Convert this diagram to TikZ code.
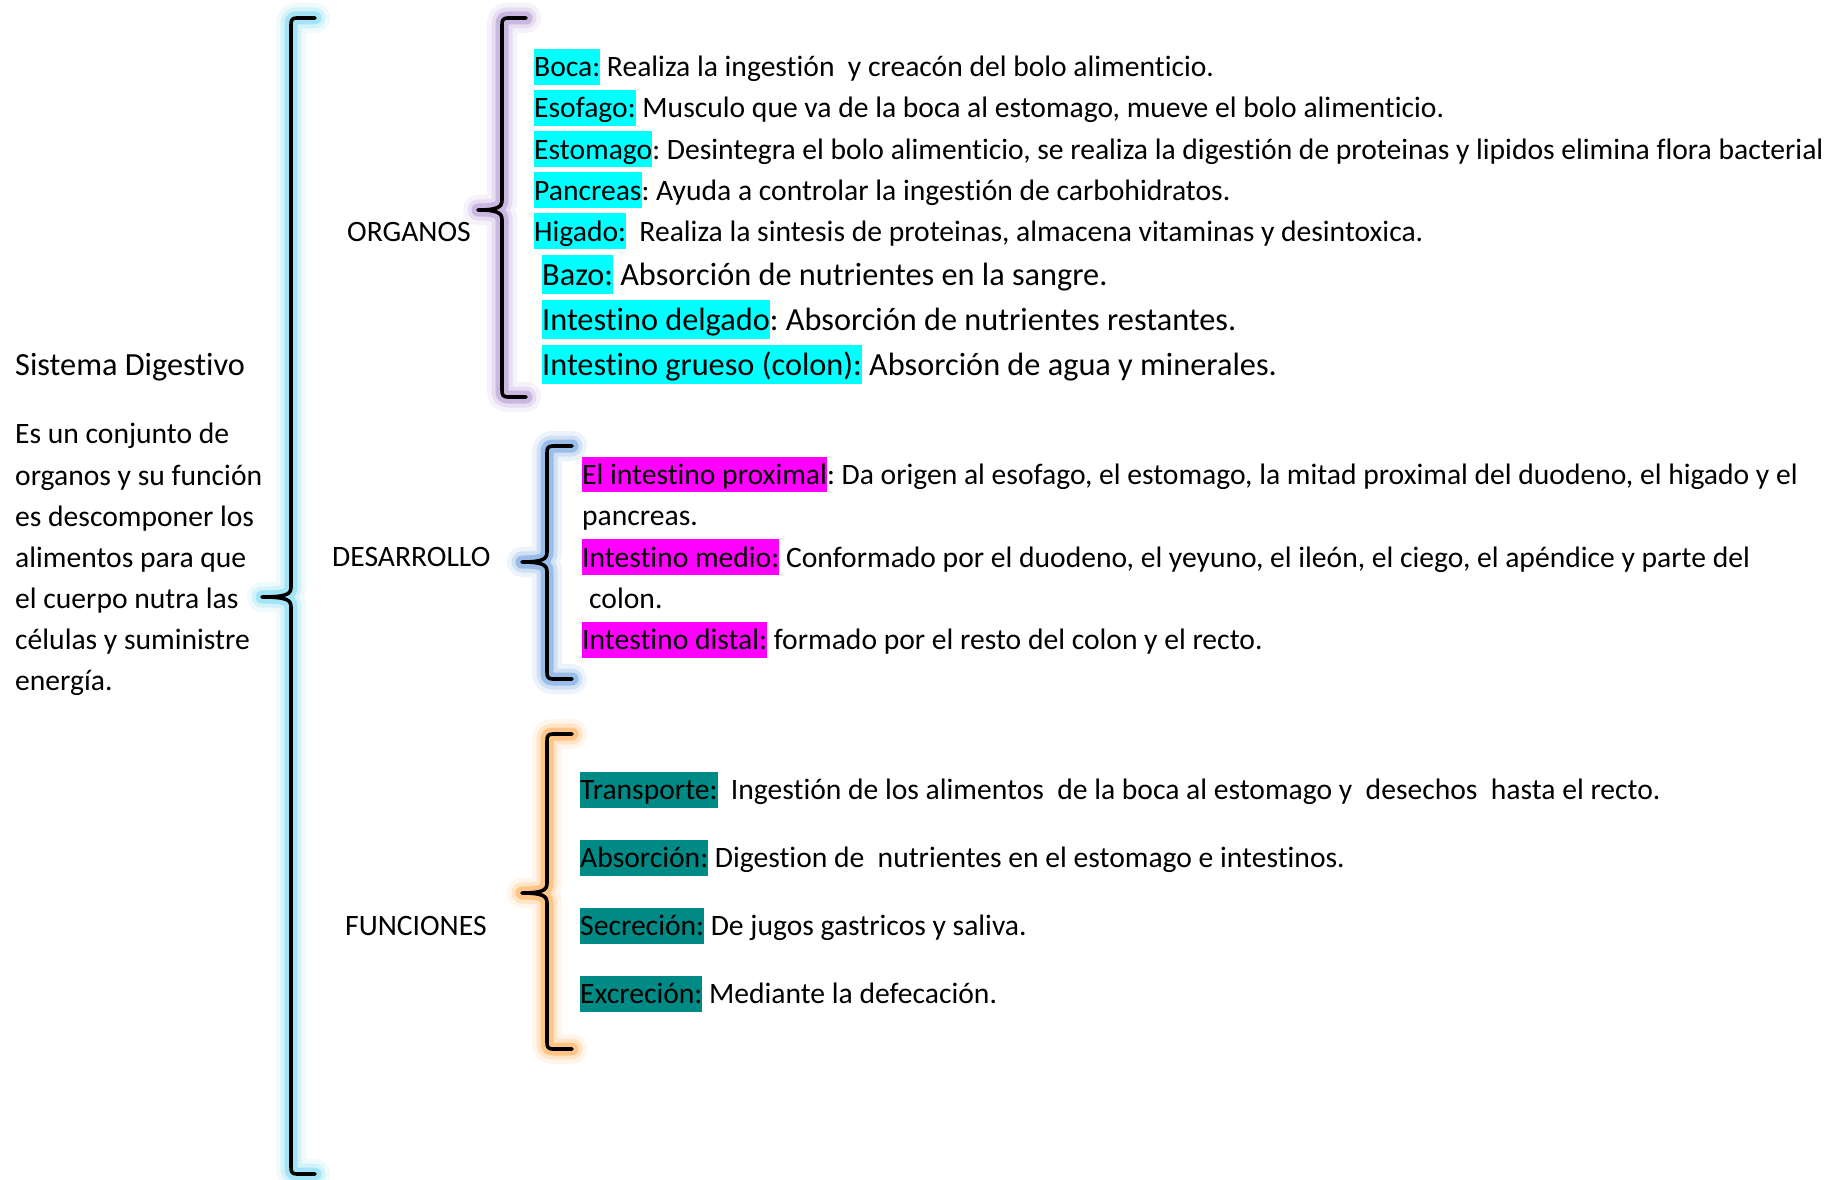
\documentclass[tikz,border=0pt]{standalone}
\usepackage{fontspec}
\setmainfont{Carlito}[Ligatures=CommonOff]
\definecolor{hlcyan}{RGB}{0,255,255}
\definecolor{hlmag}{RGB}{255,0,255}
\definecolor{hlteal}{RGB}{0,138,133}
\definecolor{glowcyan}{RGB}{150,226,245}
\definecolor{glowpurple}{RGB}{196,174,222}
\definecolor{glowblue}{RGB}{140,180,230}
\definecolor{gloworange}{RGB}{255,190,120}
\newcommand\hlbox[2]{{\setlength{\fboxsep}{0pt}\colorbox{#1}{\rule[-0.27em]{0pt}{1.2em}#2}}}
% brace path: xv, xr, xt, yt, ym, yb
\newcommand\bracepth[6]{({#2},{#4}) -- ({#1+6},{#4}) .. controls ({#1+1},{#4}) and ({#1},{#4+2}) .. ({#1},{#4+7}) -- ({#1},{#5-10}) .. controls ({#1},{#5-3}) and ({#1-4},{#5}) .. ({#3},{#5}) .. controls ({#1-4},{#5}) and ({#1},{#5+3}) .. ({#1},{#5+10}) -- ({#1},{#6-7}) .. controls ({#1},{#6-2}) and ({#1+1},{#6}) .. ({#1+6},{#6}) -- ({#2},{#6})}
\newcommand\drawbrace[7]{%
  \draw[#1, line width=30pt, opacity=0.15, line cap=round, line join=round] \bracepth{#2}{#3}{#4}{#5}{#6}{#7};
  \draw[#1, line width=21pt, opacity=0.3, line cap=round, line join=round] \bracepth{#2}{#3}{#4}{#5}{#6}{#7};
  \draw[#1, line width=13pt, opacity=0.8, line cap=round, line join=round] \bracepth{#2}{#3}{#4}{#5}{#6}{#7};
  \draw[bracestroke] \bracepth{#2}{#3}{#4}{#5}{#6}{#7};}
\tikzset{
  txt/.style={anchor=base west, inner sep=0pt, font=\fontsize{29.6}{35}\selectfont\frenchspacing},
  txtL/.style={anchor=base west, inner sep=0pt, font=\fontsize{32.3}{38}\selectfont\frenchspacing},
  bracestroke/.style={line width=3.6pt, black, line cap=round, line join=round},
}
\begin{document}
\begin{tikzpicture}[x=1pt,y=-1pt]
\useasboundingbox (0,0) rectangle (1841,1180);
\fill[white] (0,0) rectangle (1841,1180);

% braces
\drawbrace{glowcyan}{291}{315}{262}{18}{597}{1174}
\drawbrace{glowpurple}{502}{526}{478}{18}{210}{397}
\drawbrace{glowblue}{547}{572}{522}{446}{562}{679}
\drawbrace{gloworange}{547}{572}{522}{734}{893}{1049}

% left column
\node[txtL] (title) at (15,375) {Sistema Digestivo};
\node[txt] (p1) at (15,443.5) {Es un conjunto de};
\node[txt] (p2) at (15,485) {organos y su función};
\node[txt] (p3) at (15,526) {es descomponer los};
\node[txt] (p4) at (15,567) {alimentos para que};
\node[txt] (p5) at (15,608) {el cuerpo nutra las};
\node[txt] (p6) at (15,649.5) {células y suministre};
\node[txt] (p7) at (15,690.5) {energía.};

% labels
\node[txt] (lorg) at (347,241) {ORGANOS};
\node[txt] (ldes) at (332,566) {DESARROLLO};
\node[txt] (lfun) at (345,935) {FUNCIONES};

% organos
\node[txt] (o1) at (534,77) {\hlbox{hlcyan}{Boca:} Realiza la ingestión~ y creacón del bolo alimenticio.};
\node[txt] (o2) at (534,118) {\hlbox{hlcyan}{Esofago:} Musculo que va de la boca al estomago, mueve el bolo alimenticio.};
\node[txt] (o3) at (534,159) {\hlbox{hlcyan}{Estomago}: Desintegra el bolo alimenticio, se realiza la digestión de proteinas y lipidos elimina flora bacterial};
\node[txt] (o4) at (534,200) {\hlbox{hlcyan}{Pancreas}: Ayuda a controlar la ingestión de carbohidratos.};
\node[txt] (o5) at (534,241) {\hlbox{hlcyan}{Higado:}~ Realiza la sintesis de proteinas, almacena vitaminas y desintoxica.};
\node[txtL] (o6) at (542,285.5) {\hlbox{hlcyan}{Bazo:} Absorción de nutrientes en la sangre.};
\node[txtL] (o7) at (542,330.5) {\hlbox{hlcyan}{Intestino delgado}: Absorción de nutrientes restantes.};
\node[txtL] (o8) at (542,375.5) {\hlbox{hlcyan}{Intestino grueso (colon):} Absorción de agua y minerales.};

% desarrollo
\node[txt] (d1) at (582,484.5) {\hlbox{hlmag}{El intestino proximal}: Da origen al esofago, el estomago, la mitad proximal del duodeno, el higado y el};
\node[txt] (d2) at (582,525.8) {pancreas.};
\node[txt] (d3) at (582,567) {\hlbox{hlmag}{Intestino medio:} Conformado por el duodeno, el yeyuno, el ileón, el ciego, el apéndice y parte del};
\node[txt] (d4) at (589,608.4) {colon.};
\node[txt] (d5) at (582,649.7) {\hlbox{hlmag}{Intestino distal:} formado por el resto del colon y el recto.};

% funciones
\node[txt] (f1) at (580,799.5) {\hlbox{hlteal}{Transporte:}~ Ingestión de los alimentos~ de la boca al estomago y~ desechos~ hasta el recto.};
\node[txt] (f2) at (580,867.5) {\hlbox{hlteal}{Absorción:} Digestion de~ nutrientes en el estomago e intestinos.};
\node[txt] (f3) at (580,935.5) {\hlbox{hlteal}{Secreción:} De jugos gastricos y saliva.};
\node[txt] (f4) at (580,1003.5) {\hlbox{hlteal}{Excreción:} Mediante la defecación.};
\end{tikzpicture}
\end{document}
